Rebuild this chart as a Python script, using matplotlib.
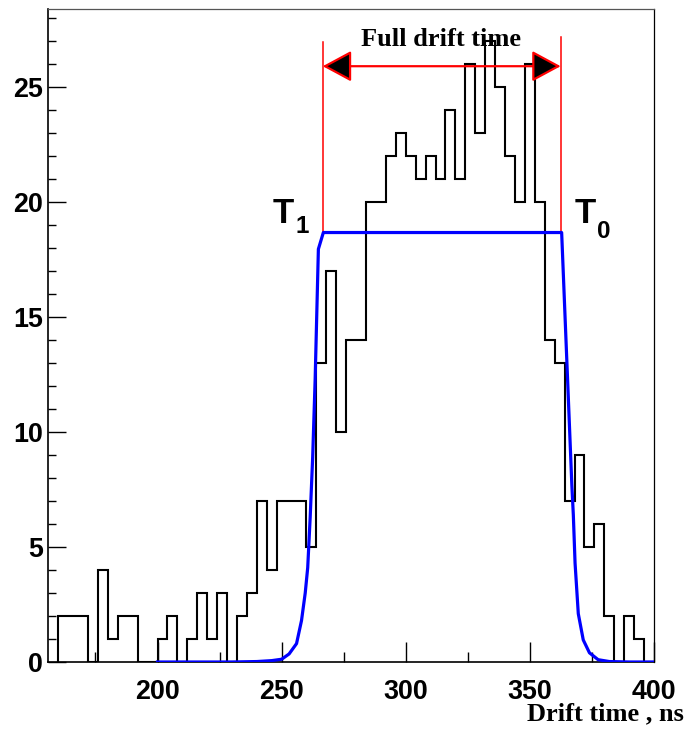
import numpy as np
import matplotlib.pyplot as plt
import matplotlib.ticker as ticker

# drift time histogram, 4 ns bins starting at 160 ns
bin_lo = 160
bin_w = 4
counts = [2, 2, 2, 0, 4, 1, 2, 2, 0, 0,
          1, 2, 0, 1, 3, 1, 3, 0, 2, 3,
          7, 4, 7, 7, 7, 5, 13, 17, 10, 14,
          14, 20, 20, 22, 23, 22, 21, 22, 21, 24,
          21, 26, 23, 27, 25, 22, 20, 26, 20, 14,
          13, 7, 9, 5, 6, 2, 0, 2, 1, 0]

# fitted curve
fit_t = [200, 230, 240, 246, 250, 253, 256, 258, 259.5, 260.5, 261.5, 262.5, 263.5,
         264.8, 266.8, 362.8, 366.9, 367.5, 368.2, 369.5, 371.5, 374, 377.5, 382, 390, 400]
fit_v = [0, 0, 0.02, 0.06, 0.12, 0.35, 0.8, 1.8, 3.0, 4.1, 6.3, 8.9, 12.3,
         17.95, 18.67, 18.67, 7.7, 6.4, 4.3, 2.1, 0.96, 0.4, 0.1, 0.02, 0, 0]

t1, t0 = 266.55, 362.4
plateau = 18.67
red_top = [26.95, 27.15]
arrow_y = 25.9

fig = plt.figure(figsize=(6.86, 7.32), dpi=100)
ax = fig.add_axes([48.3 / 686, 1 - 662 / 732, 605.7 / 686, 653.3 / 732])

edges = bin_lo + bin_w * np.arange(len(counts) + 1)
ax.stairs(counts, edges, color='black', lw=1.5, zorder=2)
ax.plot(fit_t, fit_v, color='#0000ff', lw=2.3, zorder=3)

# full drift time marker
ax.plot([t1, t1], [plateau, red_top[0]], color='red', lw=1.1, zorder=2)
ax.plot([t0, t0], [plateau, red_top[1]], color='red', lw=1.1, zorder=2)
ax.annotate('', xy=(t0, arrow_y), xytext=(t1, arrow_y),
            arrowprops=dict(arrowstyle='<|-|>,head_length=1.8,head_width=0.97',
                            fc='black', ec='red', lw=1.6, shrinkA=0, shrinkB=0,
                            mutation_scale=10), zorder=4)
ax.text(314.2, 26.78, 'Full drift time', ha='center', va='baseline',
        fontsize=19, fontweight='bold', family='Liberation Serif')

# T1 / T0 labels with subscripts
sans_bold = dict(family='Liberation Sans', fontweight='bold', va='baseline', ha='left')
ax.text(246.5, 19.09, 'T', fontsize=25, **sans_bold)
ax.text(255.4, 18.67, '1', fontsize=17.5, **sans_bold)
ax.text(368.2, 19.09, 'T', fontsize=25, **sans_bold)
ax.text(377.1, 18.43, '0', fontsize=17.5, **sans_bold)

ax.set_xlim(156, 400)
ax.set_ylim(0, 28.4)

ax.xaxis.set_major_locator(ticker.MultipleLocator(50))
ax.xaxis.set_minor_locator(ticker.MultipleLocator(25))
ax.yaxis.set_major_locator(ticker.MultipleLocator(5))
ax.yaxis.set_minor_locator(ticker.MultipleLocator(1))

ax.tick_params(axis='both', which='both', direction='in', top=False, right=False,
               width=1.0, color='black')
ax.tick_params(axis='x', which='major', length=14.4, pad=12)
ax.tick_params(axis='x', which='minor', length=7.2)
ax.tick_params(axis='y', which='major', length=13, pad=3.6)
ax.tick_params(axis='y', which='minor', length=6)

for lab in ax.get_xticklabels() + ax.get_yticklabels():
    lab.set_family('Liberation Sans')
    lab.set_fontweight('bold')
    lab.set_fontsize(19.4)

for sp in ax.spines.values():
    sp.set_linewidth(1.2)
    sp.set_color('black')
ax.spines['top'].set_linewidth(0.9)
ax.spines['top'].set_color('#555555')
ax.spines['right'].set_linewidth(0.9)

ax.set_xlabel('Drift time , ns', fontsize=19, fontweight='bold', family='Liberation Serif',
              ha='right', va='center')
ax.xaxis.set_label_coords(1.0495, -0.0796)

fig.savefig('out.png', dpi=100)
